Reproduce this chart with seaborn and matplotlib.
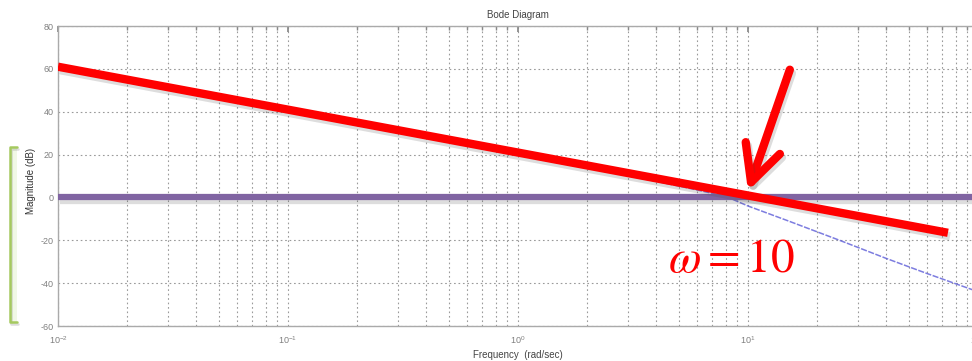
import numpy as np
import matplotlib
matplotlib.use("Agg")
import matplotlib.pyplot as plt
import matplotlib.patheffects as pe
from matplotlib.lines import Line2D
from matplotlib.patches import Polygon
from matplotlib.ticker import LogLocator, LogFormatterSciNotation
import seaborn as sns

# values
bode_freq = [0.01, 0.1, 1, 2, 4, 6, 8, 10, 15, 25, 40, 60, 100]
bode_mag = [60, 40, 20.5, 14, 7.5, 3.5, 0.5, -4, -11, -20, -28.5, -35.5, -44]

asym_freq = [0.01, 74]
asym_mag = [61, -16.5]

crossover_freq = 10
arrow_tip = (crossover_freq, 3)
arrow_tail = (15.2, 59.6)
label_pos = (4.5, -34.8)

y_ticks = [-60, -40, -20, 0, 20, 40, 60, 80]

sns.set_theme(style="white")
plt.rcParams["font.family"] = ["Liberation Sans", "DejaVu Sans"]
plt.rcParams["mathtext.fontset"] = "stix"
plt.rcParams["axes.unicode_minus"] = False

fig = plt.figure(figsize=(9.72, 3.61), dpi=100)
W, H = 972, 361
ax = fig.add_axes([58 / W, 35 / H, (978 - 58) / W, 300 / H])
ax.set_xscale("log")
ax.set_xlim(0.01, 100)
ax.set_ylim(-60, 80)

# green slide box on the left, mostly hidden behind the chart
fill = Polygon([(17 / W, 1 - 147 / H), (10 / W, 1 - 147 / H), (10 / W, 1 - 322 / H), (17 / W, 1 - 322 / H)],
               closed=True, transform=fig.transFigure, facecolor="#f1f8e6", edgecolor="none", zorder=0)
fig.add_artist(fill)
box = Line2D([17 / W, 10 / W, 10 / W, 17 / W], [1 - 147 / H, 1 - 147 / H, 1 - 322 / H, 1 - 322 / H],
             transform=fig.transFigure, color="#a5c95f", lw=1.8,
             path_effects=[pe.SimpleLineShadow(offset=(1, -1.5), alpha=0.15), pe.Normal()])
fig.add_artist(box)

# grid, matlab style
ax.xaxis.set_major_locator(LogLocator(base=10, numticks=10))
ax.xaxis.set_minor_locator(LogLocator(base=10, subs=np.arange(2, 10), numticks=100))
ax.xaxis.set_major_formatter(LogFormatterSciNotation())
ax.set_yticks(y_ticks)
ax.grid(True, which="both", axis="x", color="#9a9a9a", linestyle=(0, (1.5, 2.5)), lw=0.8)
ax.grid(True, which="major", axis="y", color="#9a9a9a", linestyle=(0, (1.5, 2.5)), lw=0.8)
ax.tick_params(which="both", direction="in", top=True, right=True, colors="#888888",
               labelcolor="#808080", labelsize=6.5)
ax.tick_params(which="major", length=4)
ax.tick_params(which="minor", length=3)
ax.tick_params(axis="x", pad=6)
ax.tick_params(axis="y", pad=3)
for s in ax.spines.values():
    s.set_color("#aaaaaa")
    s.set_linewidth(1)

shadow = [pe.SimpleLineShadow(offset=(1.5, -2.5), alpha=0.18, shadow_color="#444444"), pe.Normal()]

sns.lineplot(x=bode_freq, y=bode_mag, ax=ax, color="#5c5cd8", lw=1.1, alpha=0.8,
             linestyle=(0, (4, 1)), zorder=3, sort=False)
ax.axhline(0, color="#8064a2", lw=4.5, solid_capstyle="butt", zorder=4, path_effects=shadow)
sns.lineplot(x=asym_freq, y=asym_mag, ax=ax, color="#ff0000", lw=6, solid_capstyle="butt",
             zorder=5, sort=False, path_effects=shadow)

ax.annotate("", xy=arrow_tip, xytext=arrow_tail,
            arrowprops=dict(arrowstyle="->,head_length=1.3,head_width=0.65", color="#ff0000", lw=6,
                            mutation_scale=20, shrinkA=0, shrinkB=0,
                            path_effects=shadow),
            zorder=6)

ax.text(label_pos[0], label_pos[1], r"$\omega = 10$", color="#ff0000", fontsize=34,
        va="baseline", ha="left", zorder=6)

ax.set_title("Bode Diagram", fontsize=7, color="#444444", pad=6)
ax.set_xlabel("Frequency  (rad/sec)", fontsize=7, color="#444444", labelpad=3)
ax.set_ylabel("Magnitude (dB)", fontsize=7, color="#333333")
ax.yaxis.set_label_coords(-0.024, 0.483)

fig.savefig("out.png", dpi=100)
